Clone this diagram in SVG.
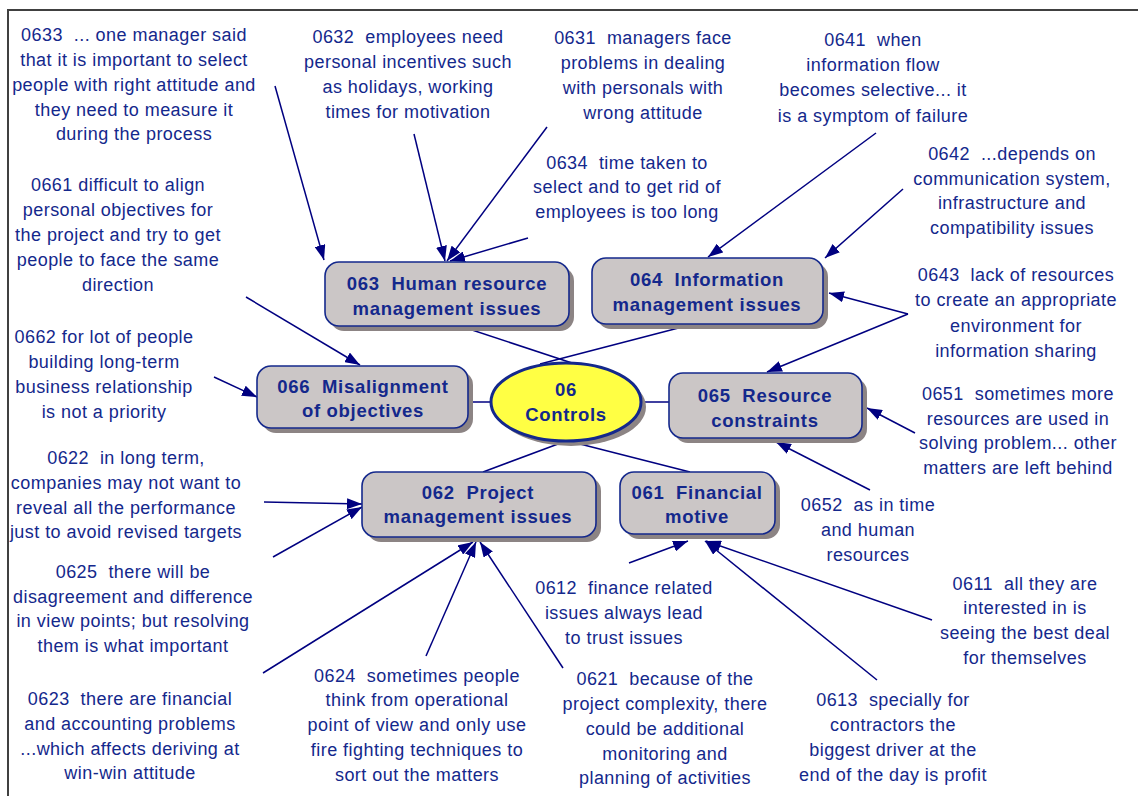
<svg xmlns="http://www.w3.org/2000/svg" width="1138" height="796" viewBox="0 0 1138 796">
<style>
.t{font-family:"Liberation Sans",Arial,sans-serif;font-size:18px;letter-spacing:0.45px;fill:#14288c;text-anchor:middle}
.n{font-family:"Liberation Sans",Arial,sans-serif;font-size:18.5px;letter-spacing:0.7px;font-weight:bold;fill:#14288c;text-anchor:middle}
.box{fill:#cbc6c6;stroke:#14288c;stroke-width:1.6}
.sh{fill:#8c8484}
.c line,.c polyline{stroke:#000080;stroke-width:1.5;fill:none}
.a{marker-end:url(#ah)}
</style>
<defs>
<marker id="ah" markerUnits="userSpaceOnUse" markerWidth="15" markerHeight="11" refX="15" refY="5.5" orient="auto">
<path d="M0,0 L15,5.5 L0,11 z" fill="#000080"/>
</marker>
</defs>
<rect x="0" y="0" width="1138" height="796" fill="#ffffff"/>
<path d="M8,796 L8,10 L1138,10" fill="none" stroke="#404040" stroke-width="2"/>

<g class="c" id="connectors">
<line x1="463" y1="327" x2="572" y2="363"/>
<line x1="690" y1="325" x2="540" y2="364"/>
<line x1="468" y1="402" x2="491" y2="402"/>
<line x1="642" y1="402" x2="669" y2="402"/>
<line x1="558" y1="444" x2="483" y2="472"/>
<line x1="580" y1="444" x2="690" y2="472"/>
<line class="a" x1="275" y1="86" x2="324" y2="260"/>
<line class="a" x1="414" y1="134" x2="445" y2="261"/>
<line class="a" x1="547" y1="127" x2="447" y2="261"/>
<line class="a" x1="528" y1="238" x2="450" y2="261"/>
<line class="a" x1="876" y1="133" x2="708" y2="257"/>
<line class="a" x1="903" y1="189" x2="825" y2="258"/>
<line class="a" x1="908" y1="314" x2="829" y2="293"/>
<line class="a" x1="908" y1="314" x2="767" y2="372"/>
<line class="a" x1="915" y1="433" x2="867" y2="408"/>
<line class="a" x1="870" y1="490" x2="776" y2="442"/>
<line class="a" x1="629" y1="563" x2="688" y2="541"/>
<line class="a" x1="877" y1="680" x2="705" y2="541"/>
<line class="a" x1="932" y1="620" x2="706" y2="541"/>
<line class="a" x1="264" y1="502" x2="362" y2="504"/>
<line class="a" x1="273" y1="557" x2="362" y2="507"/>
<line class="a" x1="263" y1="673" x2="473" y2="542"/>
<line class="a" x1="426" y1="656" x2="476" y2="542"/>
<line class="a" x1="563" y1="668" x2="480" y2="542"/>
<line class="a" x1="246" y1="297" x2="360" y2="365"/>
<line class="a" x1="214" y1="377" x2="257" y2="397"/>
</g>

<g id="n06">
<ellipse cx="571" cy="407" rx="75" ry="39" class="sh"/>
<ellipse cx="566" cy="402" rx="75" ry="39" fill="#ffff44" stroke="#14288c" stroke-width="3"/>
<text class="n" x="566" y="396">06</text>
<text class="n" x="566" y="421">Controls</text>
</g>
<g id="n063">
<rect x="330" y="267" width="244" height="64" rx="14" class="sh"/>
<rect x="325" y="262" width="244" height="64" rx="14" class="box"/>
<text class="n" x="447" y="290">063&#160; Human resource</text>
<text class="n" x="447" y="315">management issues</text>
</g>
<g id="n064">
<rect x="597" y="263" width="231" height="66" rx="14" class="sh"/>
<rect x="592" y="258" width="231" height="66" rx="14" class="box"/>
<text class="n" x="707" y="286">064&#160; Information</text>
<text class="n" x="707" y="311">management issues</text>
</g>
<g id="n066">
<rect x="262" y="371" width="211" height="62" rx="14" class="sh"/>
<rect x="257" y="366" width="211" height="62" rx="14" class="box"/>
<text class="n" x="363" y="393">066&#160; Misalignment</text>
<text class="n" x="363" y="417">of objectives</text>
</g>
<g id="n065">
<rect x="674" y="378" width="193" height="65" rx="14" class="sh"/>
<rect x="669" y="373" width="193" height="65" rx="14" class="box"/>
<text class="n" x="765" y="402">065&#160; Resource</text>
<text class="n" x="765" y="427">constraints</text>
</g>
<g id="n062">
<rect x="367" y="477" width="234" height="65" rx="14" class="sh"/>
<rect x="362" y="472" width="234" height="65" rx="14" class="box"/>
<text class="n" x="478" y="499">062&#160; Project</text>
<text class="n" x="478" y="523">management issues</text>
</g>
<g id="n061">
<rect x="625" y="477" width="155" height="62" rx="14" class="sh"/>
<rect x="620" y="472" width="155" height="62" rx="14" class="box"/>
<text class="n" x="697" y="499">061&#160; Financial</text>
<text class="n" x="697" y="523">motive</text>
</g>

<g id="t0633" class="t">
<text x="134" y="41">0633&#160; ... one manager said</text>
<text x="134" y="66">that it is important to select</text>
<text x="134" y="91">people with right attitude and</text>
<text x="134" y="116">they need to measure it</text>
<text x="134" y="140">during the process</text>
</g>
<g id="t0632" class="t">
<text x="408" y="43">0632&#160; employees need</text>
<text x="408" y="68">personal incentives such</text>
<text x="408" y="93">as holidays, working</text>
<text x="408" y="118">times for motivation</text>
</g>
<g id="t0631" class="t">
<text x="643" y="44">0631&#160; managers face</text>
<text x="643" y="69">problems in dealing</text>
<text x="643" y="94">with personals with</text>
<text x="643" y="119">wrong attitude</text>
</g>
<g id="t0641" class="t">
<text x="873" y="46">0641&#160; when</text>
<text x="873" y="71">information flow</text>
<text x="873" y="96">becomes selective... it</text>
<text x="873" y="122">is a symptom of failure</text>
</g>
<g id="t0634" class="t">
<text x="627" y="169">0634&#160; time taken to</text>
<text x="627" y="193">select and to get rid of</text>
<text x="627" y="218">employees is too long</text>
</g>
<g id="t0642" class="t">
<text x="1012" y="160">0642&#160; ...depends on</text>
<text x="1012" y="185">communication system,</text>
<text x="1012" y="209">infrastructure and</text>
<text x="1012" y="234">compatibility issues</text>
</g>
<g id="t0661" class="t">
<text x="118" y="191">0661 difficult to align</text>
<text x="118" y="216">personal objectives for</text>
<text x="118" y="241">the project and try to get</text>
<text x="118" y="266">people to face the same</text>
<text x="118" y="291">direction</text>
</g>
<g id="t0643" class="t">
<text x="1016" y="281">0643&#160; lack of resources</text>
<text x="1016" y="306">to create an appropriate</text>
<text x="1016" y="332">environment for</text>
<text x="1016" y="357">information sharing</text>
</g>
<g id="t0662" class="t">
<text x="104" y="343">0662 for lot of people</text>
<text x="104" y="368">building long-term</text>
<text x="104" y="393">business relationship</text>
<text x="104" y="418">is not a priority</text>
</g>
<g id="t0651" class="t">
<text x="1018" y="400">0651&#160; sometimes more</text>
<text x="1018" y="425">resources are used in</text>
<text x="1018" y="449">solving problem... other</text>
<text x="1018" y="474">matters are left behind</text>
</g>
<g id="t0622" class="t">
<text x="126" y="464">0622&#160; in long term,</text>
<text x="126" y="489">companies may not want to</text>
<text x="126" y="514">reveal all the performance</text>
<text x="126" y="538">just to avoid revised targets</text>
</g>
<g id="t0652" class="t">
<text x="868" y="511">0652&#160; as in time</text>
<text x="868" y="536">and human</text>
<text x="868" y="561">resources</text>
</g>
<g id="t0625" class="t">
<text x="133" y="578">0625&#160; there will be</text>
<text x="133" y="603">disagreement and difference</text>
<text x="133" y="627">in view points; but resolving</text>
<text x="133" y="652">them is what important</text>
</g>
<g id="t0612" class="t">
<text x="624" y="594">0612&#160; finance related</text>
<text x="624" y="619">issues always lead</text>
<text x="624" y="644">to trust issues</text>
</g>
<g id="t0611" class="t">
<text x="1025" y="590">0611&#160; all they are</text>
<text x="1025" y="614">interested in is</text>
<text x="1025" y="639">seeing the best deal</text>
<text x="1025" y="664">for themselves</text>
</g>
<g id="t0623" class="t">
<text x="130" y="705">0623&#160; there are financial</text>
<text x="130" y="730">and accounting problems</text>
<text x="130" y="755">...which affects deriving at</text>
<text x="130" y="779">win-win attitude</text>
</g>
<g id="t0624" class="t">
<text x="417" y="682">0624&#160; sometimes people</text>
<text x="417" y="706">think from operational</text>
<text x="417" y="731">point of view and only use</text>
<text x="417" y="756">fire fighting techniques to</text>
<text x="417" y="781">sort out the matters</text>
</g>
<g id="t0621" class="t">
<text x="665" y="685">0621&#160; because of the</text>
<text x="665" y="710">project complexity, there</text>
<text x="665" y="735">could be additional</text>
<text x="665" y="760">monitoring and</text>
<text x="665" y="784">planning of activities</text>
</g>
<g id="t0613" class="t">
<text x="893" y="706">0613&#160; specially for</text>
<text x="893" y="731">contractors the</text>
<text x="893" y="756">biggest driver at the</text>
<text x="893" y="781">end of the day is profit</text>
</g>
</svg>
